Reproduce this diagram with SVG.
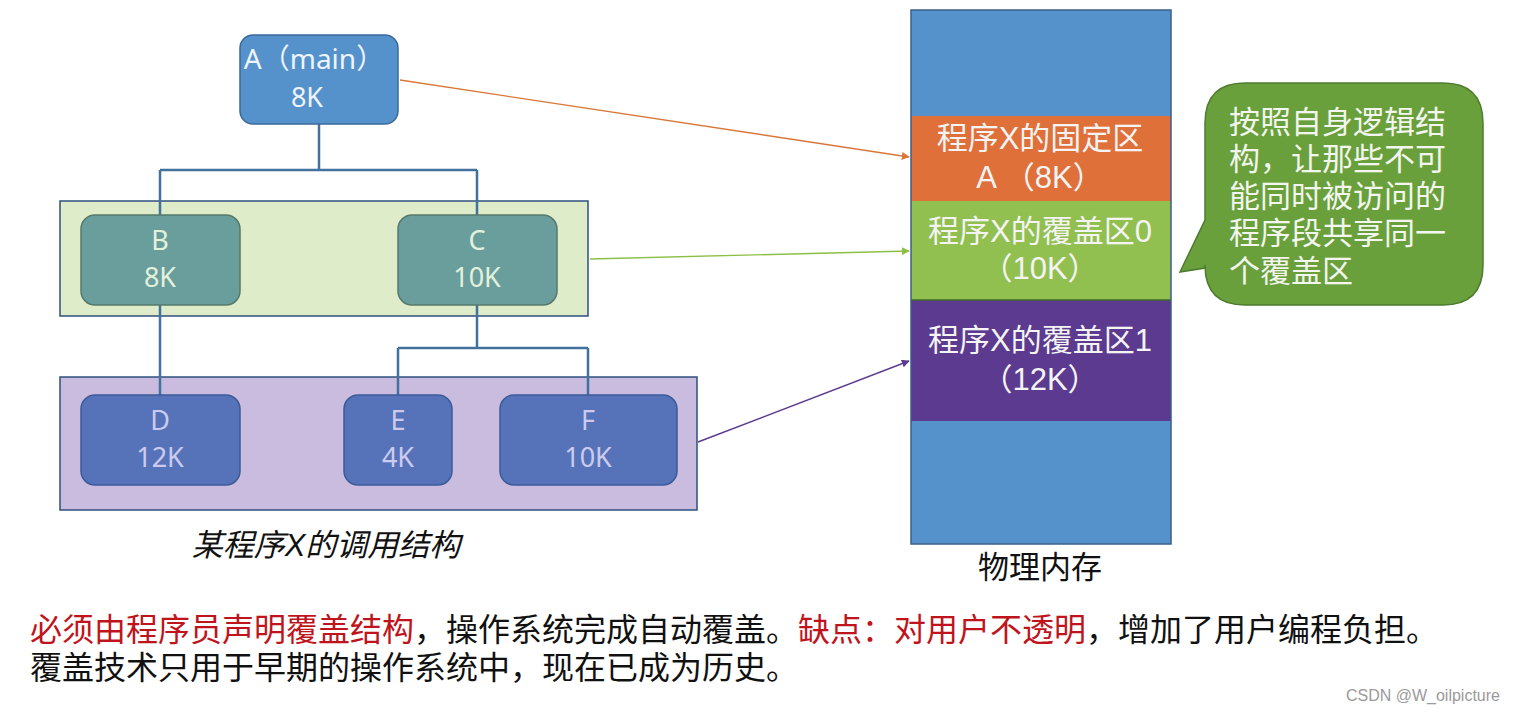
<svg xmlns="http://www.w3.org/2000/svg" width="1516" height="712" viewBox="0 0 1516 712">
<defs>
<style>
.cjk{font-family:"Liberation Sans","Noto Sans CJK SC",sans-serif;}
.lat{font-family:"Noto Sans","Noto Sans CJK SC",sans-serif;}
.tree{fill:none;stroke:#41719c;stroke-width:2.5;}
.nA{fill:#5592cb;stroke:#3a6a9a;stroke-width:1.5;}
.nBC{fill:#6a9e9c;stroke:#55796b;stroke-width:1.5;}
.nDEF{fill:#5673b9;stroke:#3d5a98;stroke-width:1.5;}
.tBC{fill:#e2f1dc;font-size:27px;text-anchor:middle;}
.tDEF{fill:#cccbef;font-size:27px;text-anchor:middle;}
.mem{fill:#f4f4f4;font-size:31px;text-anchor:middle;}
.conn{fill:none;stroke-width:1.4;}
</style>
<marker id="mO" viewBox="0 0 10 10" refX="9" refY="5" markerWidth="8" markerHeight="8" orient="auto" markerUnits="userSpaceOnUse"><path d="M0,0 L10,5 L0,10 z" fill="#d9773a"/></marker>
<marker id="mG" viewBox="0 0 10 10" refX="9" refY="5" markerWidth="8" markerHeight="8" orient="auto" markerUnits="userSpaceOnUse"><path d="M0,0 L10,5 L0,10 z" fill="#8cbf45"/></marker>
<marker id="mP" viewBox="0 0 10 10" refX="9" refY="5" markerWidth="8" markerHeight="8" orient="auto" markerUnits="userSpaceOnUse"><path d="M0,0 L10,5 L0,10 z" fill="#5b3a8f"/></marker>
</defs>
<rect width="1516" height="712" fill="#ffffff"/>

<g id="band-green"><rect x="60" y="201" width="528" height="115" fill="#dfecc9" stroke="#2f4f7f" stroke-width="1.5"/></g>
<g id="band-purple"><rect x="60" y="377" width="637" height="133" fill="#c9bcde" stroke="#2f4f7f" stroke-width="1.5"/></g>

<g id="connectors">
<path class="tree" d="M319,124 V170 M160,170 H477 M160,170 V215 M477,170 V215"/>
<path class="tree" d="M160,305 V395"/>
<path class="tree" d="M477,305 V348 M398,348 H588 M398,348 V395 M588,348 V395"/>
<line class="conn" x1="400" y1="80" x2="909" y2="157" stroke="#d9773a" marker-end="url(#mO)"/>
<line class="conn" x1="590" y1="259" x2="909" y2="251" stroke="#8cbf45" marker-end="url(#mG)"/>
<line class="conn" x1="698" y1="442" x2="909" y2="361" stroke="#5b3a8f" marker-end="url(#mP)"/>
</g>

<g id="nodeA">
<rect class="nA" x="240" y="35" width="158" height="89" rx="13"/>
<text class="lat" x="314" y="69" fill="#eef4fb" font-size="28" text-anchor="middle">A（main）</text>
<text class="lat" x="307" y="107" fill="#eef4fb" font-size="27" text-anchor="middle">8K</text>
</g>
<g id="nodeB">
<rect class="nBC" x="81" y="215" width="159" height="90" rx="14"/>
<text class="lat tBC" x="160" y="250">B</text>
<text class="lat tBC" x="160" y="287">8K</text>
</g>
<g id="nodeC">
<rect class="nBC" x="398" y="215" width="159" height="90" rx="14"/>
<text class="lat tBC" x="477" y="250">C</text>
<text class="lat tBC" x="477" y="287">10K</text>
</g>
<g id="nodeD">
<rect class="nDEF" x="81" y="395" width="159" height="90" rx="14"/>
<text class="lat tDEF" x="160" y="430">D</text>
<text class="lat tDEF" x="160" y="467">12K</text>
</g>
<g id="nodeE">
<rect class="nDEF" x="344" y="395" width="108" height="90" rx="14"/>
<text class="lat tDEF" x="398" y="430">E</text>
<text class="lat tDEF" x="398" y="467">4K</text>
</g>
<g id="nodeF">
<rect class="nDEF" x="500" y="395" width="177" height="90" rx="14"/>
<text class="lat tDEF" x="588" y="430">F</text>
<text class="lat tDEF" x="588" y="467">10K</text>
</g>

<g id="caption-tree">
<text class="cjk" x="326" y="556" font-size="31" font-style="italic" text-anchor="middle" fill="#111">某程序X的调用结构</text>
</g>

<g id="memory">
<rect x="911" y="10" width="260" height="106" fill="#5592cb"/>
<rect x="911" y="116" width="260" height="85" fill="#e0703a"/>
<rect x="911" y="201" width="260" height="99" fill="#92c050"/>
<rect x="911" y="300" width="260" height="121" fill="#5b3a8f"/>
<rect x="911" y="421" width="260" height="123" fill="#5592cb"/>
<rect x="911" y="10" width="260" height="534" fill="none" stroke="#3a5f8a" stroke-width="1.5"/>
<line x1="911" y1="300" x2="1171" y2="300" stroke="#3f6b2a" stroke-width="1.5"/>
<text class="cjk mem" x="1040" y="149">程序X的固定区</text>
<text class="cjk mem" x="1040" y="188">A （8K）</text>
<text class="cjk mem" x="1040" y="242">程序X的覆盖区0</text>
<text class="cjk mem" x="1040" y="279">（10K）</text>
<text class="cjk mem" x="1040" y="351">程序X的覆盖区1</text>
<text class="cjk mem" x="1040" y="390">（12K）</text>
<text class="cjk" x="1040" y="578" font-size="31" text-anchor="middle" fill="#111">物理内存</text>
</g>

<g id="callout">
<path d="M1245,83 H1443 Q1483,83 1483,123 V265 Q1483,305 1443,305 H1245 Q1205,305 1205,265 V268 L1180,272 L1205,220 V123 Q1205,83 1245,83 Z" fill="#6aa03c" stroke="#4e7a30" stroke-width="1.5"/>
<g class="cjk" font-size="31" fill="#f2f6ee">
<text x="1229" y="133">按照自身逻辑结</text>
<text x="1229" y="170">构，让那些不可</text>
<text x="1229" y="207">能同时被访问的</text>
<text x="1229" y="244">程序段共享同一</text>
<text x="1229" y="282">个覆盖区</text>
</g>
</g>

<g id="notes" class="cjk" font-size="32">
<text x="30" y="641"><tspan fill="#c0141c">必须由程序员声明覆盖结构</tspan><tspan fill="#111">，操作系统完成自动覆盖。</tspan><tspan fill="#c0141c">缺点：对用户不透明</tspan><tspan fill="#111">，增加了用户编程负担。</tspan></text>
<text x="30" y="679" fill="#111">覆盖技术只用于早期的操作系统中，现在已成为历史。</text>
</g>

<text x="1500" y="701" font-family="Liberation Sans, sans-serif" font-size="16" fill="#9a9a9a" text-anchor="end">CSDN @W_oilpicture</text>
</svg>
